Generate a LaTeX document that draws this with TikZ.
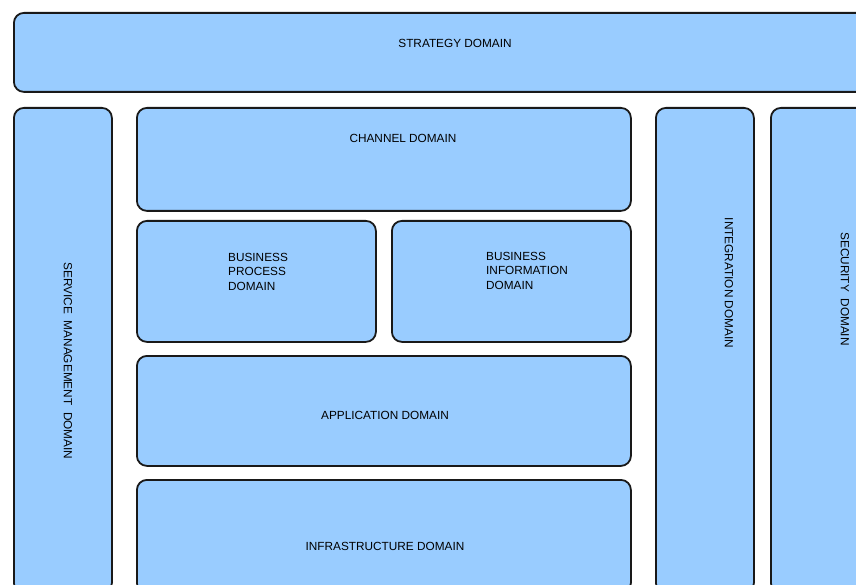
\documentclass[tikz,border=0pt]{standalone}
\usepackage{fontspec}
\setmainfont{Liberation Sans}
\begin{document}
\begin{tikzpicture}[x=1pt,y=-1pt,
  box/.style={draw=black!90,line width=1.8pt,fill=boxblue,rounded corners=10pt,inner sep=0pt,anchor=north west},
  lbl/.style={font=\fontsize{11.8}{14.5}\selectfont,text=black,inner sep=0pt},
  lbll/.style={lbl,align=left,anchor=north west}]
\definecolor{boxblue}{HTML}{99CCFF}
\useasboundingbox (0,0) rectangle (856,585);
\clip (0,0) rectangle (856,585);
\node[box,minimum width=870pt,minimum height=79pt] (strategy) at (13,12) {};
\node[box,minimum width=98pt,minimum height=485pt] (service) at (13,107) {};
\node[box,minimum width=494pt,minimum height=103pt] (channel) at (136,107) {};
\node[box,minimum width=239pt,minimum height=121pt] (bp) at (136,220) {};
\node[box,minimum width=239pt,minimum height=121pt] (bi) at (391,220) {};
\node[box,minimum width=494pt,minimum height=110pt] (app) at (136,355) {};
\node[box,minimum width=494pt,minimum height=113pt] (infra) at (136,479) {};
\node[box,minimum width=98pt,minimum height=485pt] (integ) at (655,107) {};
\node[box,minimum width=110pt,minimum height=485pt] (security) at (770,107) {};
\node[lbl] (tstrategy) at (455,43) {STRATEGY DOMAIN};
\node[lbl] (tchannel) at (403,138) {CHANNEL DOMAIN};
\node[lbll] (tbp) at (228,253) {BUSINESS\\PROCESS\\DOMAIN};
\node[lbll] (tbi) at (486,252) {BUSINESS\\INFORMATION\\DOMAIN};
\node[lbl] (tapp) at (385,415) {APPLICATION DOMAIN};
\node[lbl] (tinfra) at (385,546) {INFRASTRUCTURE DOMAIN};
\node[lbl,rotate=-90] (tservice) at (68,361) {SERVICE\ \ MANAGEMENT\ \ DOMAIN};
\node[lbl,rotate=-90] (tinteg) at (729,283) {INTEGRATION DOMAIN};
\node[lbl,rotate=-90] (tsecurity) at (845,289) {SECURITY\ \ DOMAIN};
\end{tikzpicture}
\end{document}
